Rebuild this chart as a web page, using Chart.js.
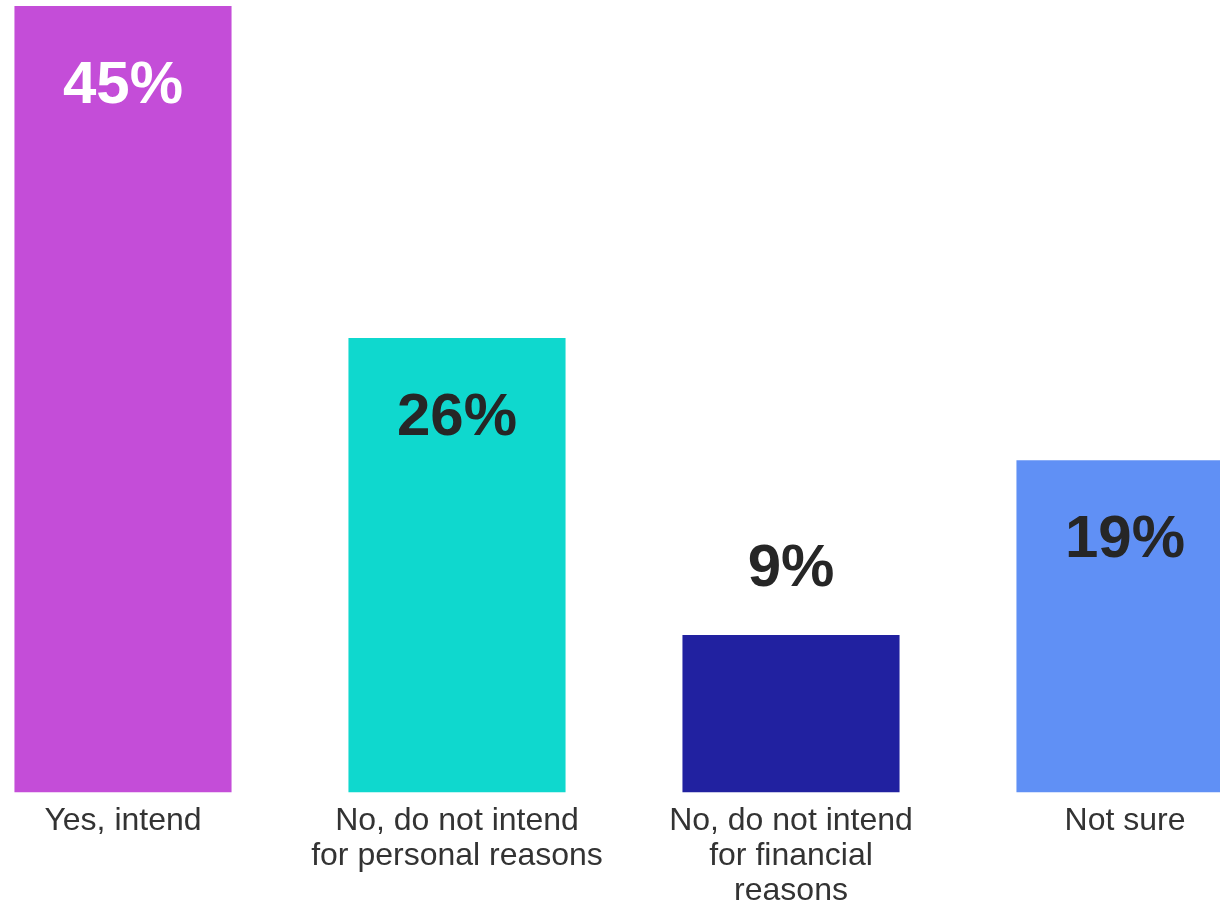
<!DOCTYPE html>
<html>
<head>
<meta charset="utf-8">
<script src="https://cdn.jsdelivr.net/npm/chart.js@4"></script>
<style>
  html, body { margin: 0; padding: 0; background: #fff; overflow: hidden; }
  #wrap { position: absolute; left: -44px; top: 0; width: 1336px; height: 920px; }
</style>
</head>
<body>
<div id="wrap"><canvas id="chart"></canvas></div>
<script>
// Intention answers (share of respondents, %)
const categories = [
  'Yes, intend',
  ['No, do not intend', 'for personal reasons'],
  ['No, do not intend', 'for financial', 'reasons'],
  'Not sure'
];
const values = [45, 26, 9, 19];
const barColors = ['#C44DD8', '#0FD8CE', '#2121A0', '#6090F5'];
const labelColors = ['#FFFFFF', '#262626', '#262626', '#262626'];

// value labels: inside the top of tall bars, above short ones
const valueLabels = {
  id: 'valueLabels',
  afterDatasetsDraw(chart) {
    const ctx = chart.ctx;
    const meta = chart.getDatasetMeta(0);
    ctx.save();
    ctx.font = 'bold 60px "Liberation Sans", Arial, sans-serif';
    ctx.textAlign = 'center';
    ctx.textBaseline = 'middle';
    meta.data.forEach((bar, i) => {
      const inside = values[i] > 15;
      const y = inside ? bar.y + 80 : bar.y - 66;
      ctx.fillStyle = labelColors[i];
      ctx.fillText(values[i] + '%', bar.x, y);
    });
    ctx.restore();
  }
};

new Chart(document.getElementById('chart').getContext('2d'), {
  type: 'bar',
  data: {
    labels: categories,
    datasets: [{
      data: values,
      backgroundColor: barColors,
      borderWidth: 0,
      barPercentage: 0.65,
      categoryPercentage: 1
    }]
  },
  options: {
    responsive: true,
    maintainAspectRatio: false,
    animation: false,
    layout: { padding: { top: 6, left: 0, right: 0, bottom: 0 } },
    plugins: {
      legend: { display: false },
      tooltip: { enabled: false }
    },
    scales: {
      x: {
        grid: { display: false, drawTicks: false },
        border: { display: false },
        ticks: {
          color: '#333333',
          padding: 11,
          maxRotation: 0,
          autoSkip: false,
          font: { family: '"Liberation Sans", Arial, sans-serif', size: 32, lineHeight: 1.1 }
        }
      },
      y: {
        display: false,
        min: 0,
        max: 45
      }
    }
  },
  plugins: [valueLabels]
});
</script>
</body>
</html>
